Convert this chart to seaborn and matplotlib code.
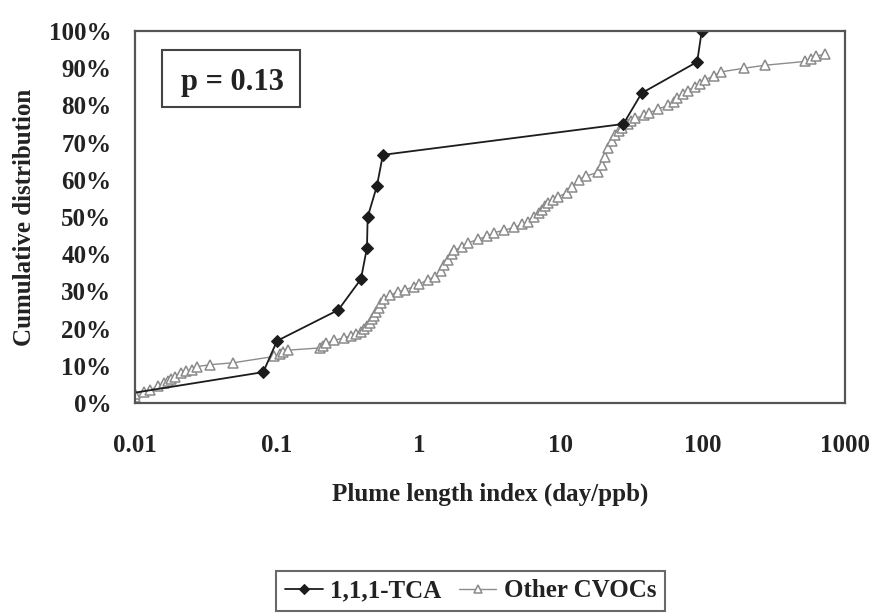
import numpy as np
import pandas as pd
import seaborn as sns
import matplotlib.pyplot as plt
from matplotlib.patches import Rectangle

# 1,1,1-TCA: plume length index (day/ppb) and cumulative share (%)
tca_x = [0.0035, 0.080, 0.100, 0.27, 0.39, 0.43, 0.435, 0.505, 0.557, 27.5, 37.0, 91.0, 98.0]
tca_pct = [0.0, 8.3, 16.7, 25.0, 33.3, 41.7, 50.0, 58.3, 66.7, 75.0, 83.3, 91.7, 100.0]

# Other CVOCs
cvoc_x = [0.010, 0.010, 0.010, 0.0115, 0.0128, 0.0145, 0.016, 0.017, 0.018, 0.019,
          0.021, 0.023, 0.0253, 0.0275, 0.034, 0.049, 0.095, 0.105, 0.11, 0.12,
          0.20, 0.21, 0.22, 0.25, 0.295, 0.33, 0.36, 0.39, 0.41, 0.43,
          0.45, 0.47, 0.48, 0.50, 0.52, 0.54, 0.57, 0.62, 0.71, 0.80,
          0.92, 1.0, 1.15, 1.3, 1.42, 1.5, 1.6, 1.7, 1.77, 2.0,
          2.2, 2.6, 3.0, 3.4, 4.0, 4.7, 5.3, 5.9, 6.5, 7.0,
          7.3, 7.7, 8.1, 8.8, 9.6, 11.0, 12.0, 13.3, 15.0, 18.2,
          19.5, 20.5, 21.5, 22.7, 24.0, 25.5, 27.0, 29.5, 31.0, 33.0,
          38.5, 42.0, 48.0, 57.0, 62.0, 66.0, 72.0, 78.0, 88.0, 95.0,
          103.0, 120.0, 134.0, 195.0, 275.0, 520.0, 580.0, 620.0, 720.0]
cvoc_pct = [0.5, 1.5, 2.5, 3.0, 3.5, 4.5, 5.3, 6.0, 6.5, 7.0,
            8.0, 8.5, 9.0, 9.8, 10.3, 10.8, 12.5, 13.2, 13.8, 14.2,
            14.8, 15.3, 16.0, 16.8, 17.5, 18.0, 18.6, 19.2, 20.0, 20.8,
            21.5, 22.5, 23.5, 24.5, 25.5, 26.8, 28.0, 29.0, 29.8, 30.5,
            31.2, 32.0, 33.0, 34.0, 35.5, 37.0, 38.5, 40.0, 41.0, 42.0,
            43.0, 44.0, 44.8, 45.8, 46.5, 47.2, 48.0, 48.6, 50.0, 51.0,
            52.0, 53.0, 53.8, 54.6, 55.5, 56.5, 58.0, 60.0, 61.0, 62.0,
            64.0, 66.0, 68.5, 70.5, 72.0, 73.0, 74.0, 75.0, 75.8, 76.5,
            77.3, 78.0, 79.0, 80.0, 81.0, 82.0, 83.0, 84.0, 85.0, 85.8,
            86.8, 88.0, 89.0, 90.0, 90.8, 91.8, 92.5, 93.2, 93.8]

x_ticks = [0.01, 0.1, 1, 10, 100, 1000]
x_tick_labels = ["0.01", "0.1", "1", "10", "100", "1000"]
y_ticks = list(range(0, 101, 10))
y_tick_labels = [f"{v}%" for v in y_ticks]

sns.set_theme(style="white")
plt.rcParams["font.family"] = ["Liberation Serif", "DejaVu Serif"]
plt.rcParams["font.weight"] = "bold"
plt.rcParams["text.color"] = "#222222"
plt.rcParams["axes.labelcolor"] = "#222222"
plt.rcParams["xtick.color"] = "#222222"
plt.rcParams["ytick.color"] = "#222222"

fig = plt.figure(figsize=(8.75, 6.16), dpi=100)
ax = fig.add_axes([0.1543, 0.3458, 0.8114, 0.6039])

cvoc_df = pd.DataFrame({"x": cvoc_x, "y": cvoc_pct})
tca_df = pd.DataFrame({"x": tca_x, "y": tca_pct})

sns.lineplot(data=cvoc_df, x="x", y="y", ax=ax, estimator=None, sort=False,
             color="#8c8c8c", linewidth=1.0, marker="^", markersize=7.5,
             markerfacecolor="white", markeredgecolor="#8a8a8a",
             markeredgewidth=1.1, label="Other CVOCs")
sns.lineplot(data=tca_df, x="x", y="y", ax=ax, estimator=None, sort=False,
             color="#1c1c1c", linewidth=1.3, marker="D", markersize=6.5,
             markerfacecolor="#1c1c1c", markeredgecolor="#1c1c1c",
             label="1,1,1-TCA")

ax.set_xscale("log")
ax.set_xlim(0.01, 1000)
ax.set_ylim(0, 100)
ax.set_xticks(x_ticks)
ax.set_xticklabels(x_tick_labels)
ax.xaxis.set_minor_locator(plt.NullLocator())
ax.set_yticks(y_ticks)
ax.set_yticklabels(y_tick_labels)

for side in ["left", "bottom", "top", "right"]:
    ax.spines[side].set_visible(True)
    ax.spines[side].set_color("#555555")
    ax.spines[side].set_linewidth(1.6)

ax.tick_params(axis="both", direction="out", length=8, width=1.4,
               color="#555555", labelsize=18)
ax.tick_params(axis="x", pad=14)
ax.tick_params(axis="y", pad=9)
for lab in ax.get_xticklabels() + ax.get_yticklabels():
    lab.set_fontweight("bold")

ax.set_xlabel("Plume length index (day/ppb)", fontsize=18, fontweight="bold")
ax.set_ylabel("Cumulative distribution", fontsize=18, fontweight="bold")
ax.xaxis.set_label_coords(0.5, -0.215)
ax.yaxis.set_label_coords(-0.139, 0.5)

# annotation box with the test statistic
ax.add_patch(Rectangle((0.038, 0.796), 0.194, 0.153, transform=ax.transAxes,
                       fill=False, edgecolor="#444444", linewidth=1.5))
ax.text(0.137, 0.862, "p = 0.13", transform=ax.transAxes, ha="center",
        va="center", fontsize=22, fontweight="bold")

handles, labels = ax.get_legend_handles_labels()
if ax.get_legend() is not None:
    ax.get_legend().remove()
order = [labels.index("1,1,1-TCA"), labels.index("Other CVOCs")]
leg = fig.legend([handles[i] for i in order], [labels[i] for i in order],
                 loc="center", bbox_to_anchor=(0.538, 0.0406), ncol=2,
                 frameon=True, fancybox=False, edgecolor="#444444",
                 fontsize=18, handlelength=1.5, handletextpad=0.3,
                 columnspacing=0.7, borderpad=0.35, borderaxespad=0.0,
                 markerscale=0.75)
leg.get_frame().set_linewidth(1.5)
for t in leg.get_texts():
    t.set_fontweight("bold")

fig.savefig("out.png", dpi=100, facecolor="white")
